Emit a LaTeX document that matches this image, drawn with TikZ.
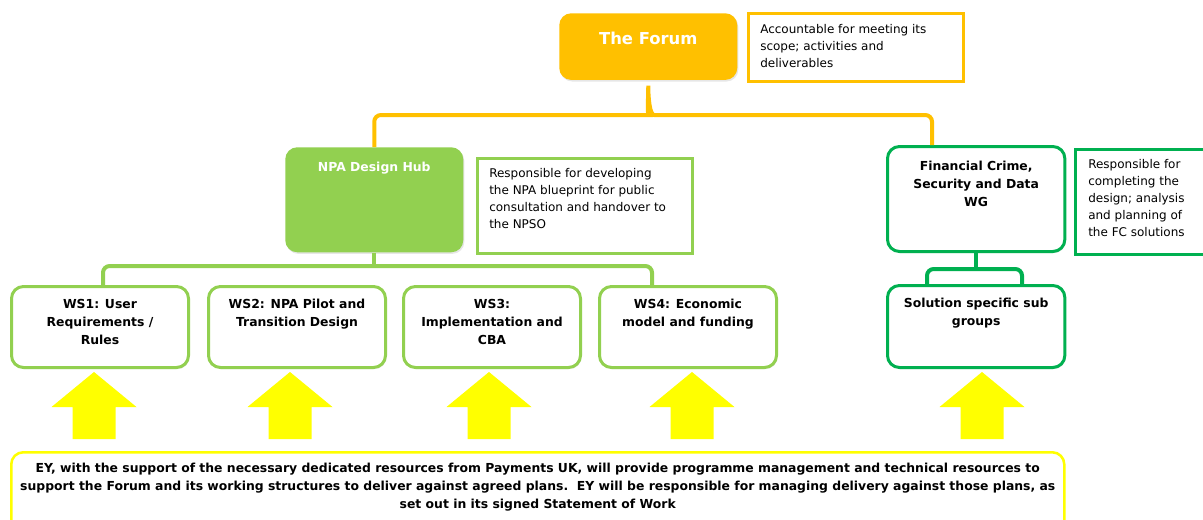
\documentclass[tikz,border=0pt]{standalone}
\usepackage{fontspec}
\setmainfont{DejaVu Sans}
\usetikzlibrary{positioning,shadows}
\definecolor{forum-gold}{RGB}{255,192,0}
\definecolor{hub-green}{RGB}{146,208,80}
\definecolor{wg-green}{RGB}{0,176,80}
\definecolor{ey-yellow}{RGB}{255,255,0}
\tikzset{
    rounded-unit/.style = {rectangle, rounded corners=9pt, anchor=north west, inner sep=0pt},
    soft-shadow/.style = {drop shadow={opacity=0.2, shadow xshift=0.8pt, shadow yshift=-1.2pt}},
    forum-box/.style = {rounded-unit, fill=forum-gold, soft-shadow},
    hub-box/.style = {rounded-unit, fill=hub-green, soft-shadow},
    ws-box/.style = {rounded-unit, draw=hub-green, fill=white, line width=2.25pt, minimum width=132.75pt, minimum height=60.75pt, soft-shadow},
    wg-box/.style = {rounded-unit, draw=wg-green, fill=white, line width=2.25pt, minimum width=133pt, soft-shadow},
    note-box/.style = {rectangle, anchor=north west, fill=white, line width=1.9pt, inner sep=0pt},
    note-text/.style = {align=left, inner sep=0pt, font=\fontsize{9}{12.75}\selectfont},
    box-title/.style = {align=center, inner sep=0pt, font=\bfseries\fontsize{9.3}{13.5}\selectfont},
    brace-link/.style = {line width=3pt},
}

\begin{document}
\begin{tikzpicture}[x=0.75pt, y=-0.75pt]
\useasboundingbox (0,0) rectangle (1203,519);

\node[forum-box, minimum width=133.5pt, minimum height=50pt] (forum) at (559,13) {};
\node[box-title, text=white, font=\bfseries\fontsize{12.3}{15}\selectfont, below=14pt] (forum-title) at (forum.north) {The Forum};
\node[note-box, draw=forum-gold, minimum width=161.25pt, minimum height=51pt] (forum-note) at (747,12) {};
\node[note-text, below right=8.75pt and 9.75pt] (forum-note-text) at (forum-note.north west) {Accountable for meeting its\\scope; activities and\\deliverables};

\node[hub-box, minimum width=133.5pt, minimum height=78.75pt] (hub) at (285,147) {};
\node[box-title, text=white, below=11.25pt] (hub-title) at (hub.north) {NPA Design Hub};
\node[note-box, draw=hub-green, minimum width=161.25pt, minimum height=71.25pt] (hub-note) at (476,157) {};
\node[note-text, below right=8.25pt and 9.75pt] (hub-note-text) at (hub-note.north west) {Responsible for developing\\the NPA blueprint for public\\consultation and handover to\\the NPSO};

\node[wg-box, minimum height=78.75pt] (wg) at (886,145) {};
\node[box-title, below=12pt] (wg-title) at (wg.north) {Financial Crime,\\Security and Data\\WG};
\node[note-box, draw=wg-green, minimum width=105.75pt, minimum height=78.75pt] (wg-note) at (1074,148) {};
\node[note-text, below right=8.25pt and 10.5pt] (wg-note-text) at (wg-note.north west) {Responsible for\\completing the\\design; analysis\\and planning of\\the FC solutions};

\node[ws-box] (ws1) at (10,285) {};
\node[box-title, below=10.5pt] (ws1-title) at (ws1.north) {WS1: User\\Requirements /\\Rules};
\node[ws-box] (ws2) at (207,285) {};
\node[box-title, below=10.5pt] (ws2-title) at (ws2.north) {WS2: NPA Pilot and\\Transition Design};
\node[ws-box] (ws3) at (402,285) {};
\node[box-title, below=10.5pt] (ws3-title) at (ws3.north) {WS3:\\Implementation and\\CBA};
\node[ws-box] (ws4) at (598,285) {};
\node[box-title, below=10.5pt] (ws4-title) at (ws4.north) {WS4: Economic\\model and funding};

\node[wg-box, minimum height=61.5pt] (sub) at (886,284) {};
\node[box-title, below=10.5pt] (sub-title) at (sub.north) {Solution specific sub\\groups};

\node[rounded-unit, draw=ey-yellow, fill=white, line width=1.9pt, minimum width=789.75pt, minimum height=75pt] (ey) at (10,451) {};
\node[box-title, below=9pt] (ey-text) at (ey.north) {EY, with the support of the necessary dedicated resources from Payments UK, will provide programme management and technical resources to\\support the Forum and its working structures to deliver against agreed plans.\ \ EY will be responsible for managing delivery against those plans, as\\set out in its signed Statement of Work};

\coordinate (forum-split) at (forum.south |- 0,115);
\draw[brace-link, forum-gold] (hub.north) [rounded corners=5pt] |- ([xshift=-4.5pt]forum-split) [sharp corners]
  .. controls +(3.5pt,0) and +(0,-9pt) .. ([yshift=-4pt]forum.south)
  .. controls +(0,-9pt) and +(-3.5pt,0) .. ([xshift=4.5pt]forum-split)
  [rounded corners=5pt] -| ([xshift=34.5pt]wg.north west);

\coordinate (hub-split) at (hub.south |- 0,266);
\draw[brace-link, hub-green] (hub.south) -- (hub-split);
\draw[brace-link, hub-green, rounded corners=5pt] ([xshift=2.25pt]ws1.north) |- (hub-split) -| ([xshift=40.5pt]ws4.north west);

\coordinate (wg-split) at (wg.south |- 0,269);
\draw[brace-link, wg-green] (wg.south) -- (wg-split);
\draw[brace-link, wg-green, rounded corners=5pt] ([xshift=30.75pt]sub.north west) |- (wg-split) -| ([xshift=102pt]sub.north west);

\foreach \cx in {94,290,489,692,982}
  \fill[ey-yellow] (\cx,372) -- ++(42.5,35) -- ++(-21,0) -- ++(0,32) -- ++(-43,0) -- ++(0,-32) -- ++(-21,0) -- cycle;
\end{tikzpicture}
\end{document}
